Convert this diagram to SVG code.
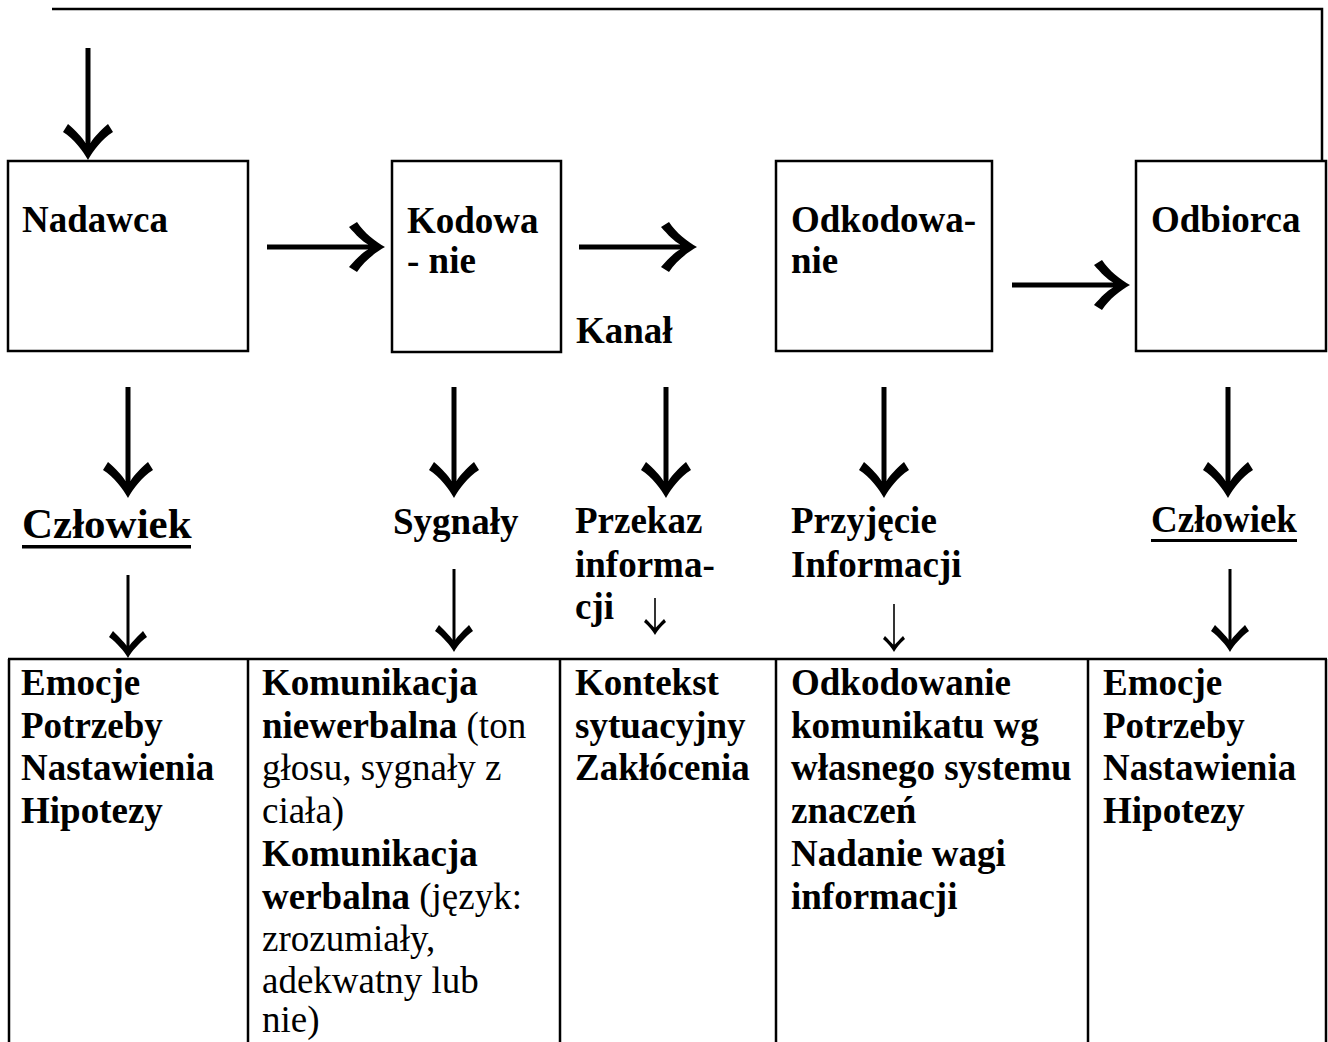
<svg xmlns="http://www.w3.org/2000/svg" width="1328" height="1042" viewBox="0 0 1328 1042">
<style>
  .box{fill:none;stroke:#000;stroke-width:2.5}
  .t{font-family:"Liberation Serif","Times New Roman",serif;font-size:37px;fill:#000}
  .b{font-weight:bold}
  .n{font-weight:normal}
  .big{stroke:#000;stroke-width:5;fill:none}
  .med{stroke:#000;stroke-width:3;fill:none}
  .sml{stroke:#000;stroke-width:1.6;fill:none}
  .ln{stroke:#000;stroke-width:2.5;fill:none}
</style>
<defs>
  <marker id="hBig" markerUnits="userSpaceOnUse" orient="auto" refX="0" refY="0" markerWidth="80" markerHeight="80" viewBox="-40 -40 80 80" overflow="visible">
    <path d="M15,0 C6,-5 -6,-14 -13,-25 L-21,-20 C-14,-12 -8,-6 -2,-2.5 L-2,2.5 C-8,6 -14,12 -21,20 L-13,25 C-6,14 6,5 15,0 Z" fill="#000"/>
  </marker>
  <marker id="hMed" markerUnits="userSpaceOnUse" orient="auto" refX="0" refY="0" markerWidth="60" markerHeight="60" viewBox="-30 -30 60 60" overflow="visible">
    <path d="M11,0 C4,-4 -4,-11 -10,-19 L-16,-15 C-10,-9 -5,-4 -1.5,-1.6 L-1.5,1.6 C-5,4 -10,9 -16,15 L-10,19 C-4,11 4,4 11,0 Z" fill="#000"/>
  </marker>
  <marker id="hSml" markerUnits="userSpaceOnUse" orient="auto" refX="0" refY="0" markerWidth="40" markerHeight="40" viewBox="-20 -20 40 40" overflow="visible">
    <path d="M7,0 C3,-2.5 -2,-6 -6,-11 L-9,-9 C-5,-5 -2,-2.5 -0.5,-0.9 L-0.5,0.9 C-2,2.5 -5,5 -9,9 L-6,11 C-2,6 3,2.5 7,0 Z" fill="#000"/>
  </marker>
</defs>

<g id="connectors">
  <polyline class="ln" points="52,9 1322,9 1322,161"/>
  <line class="big" x1="88" y1="48" x2="88" y2="145" marker-end="url(#hBig)"/>
  <line class="big" x1="267" y1="247" x2="370" y2="247" marker-end="url(#hBig)"/>
  <line class="big" x1="579" y1="247" x2="682" y2="247" marker-end="url(#hBig)"/>
  <line class="big" x1="1012" y1="285" x2="1115" y2="285" marker-end="url(#hBig)"/>
  <line class="big" x1="128" y1="387" x2="128" y2="483" marker-end="url(#hBig)"/>
  <line class="big" x1="454" y1="387" x2="454" y2="483" marker-end="url(#hBig)"/>
  <line class="big" x1="666" y1="387" x2="666" y2="483" marker-end="url(#hBig)"/>
  <line class="big" x1="884" y1="387" x2="884" y2="483" marker-end="url(#hBig)"/>
  <line class="big" x1="1228" y1="387" x2="1228" y2="483" marker-end="url(#hBig)"/>
  <line class="med" x1="128" y1="575" x2="128" y2="647" marker-end="url(#hMed)"/>
  <line class="med" x1="454" y1="569" x2="454" y2="641" marker-end="url(#hMed)"/>
  <line class="med" x1="1230" y1="569" x2="1230" y2="641" marker-end="url(#hMed)"/>
  <line class="sml" x1="655" y1="598" x2="655" y2="628" marker-end="url(#hSml)"/>
  <line class="sml" x1="894" y1="604" x2="894" y2="645" marker-end="url(#hSml)"/>
</g>

<g id="nadawca">
  <rect class="box" x="8" y="161" width="240" height="190"/>
  <text class="t b" x="22" y="232">Nadawca</text>
</g>
<g id="kodowanie">
  <rect class="box" x="392" y="161" width="169" height="191"/>
  <text class="t b" x="407" y="233">Kodowa</text>
  <text class="t b" x="407" y="273">- nie</text>
</g>
<g id="kanal">
  <text class="t b" x="576" y="343">Kanał</text>
</g>
<g id="odkodowanie">
  <rect class="box" x="776" y="161" width="216" height="190"/>
  <text class="t b" x="791" y="232">Odkodowa-</text>
  <text class="t b" x="791" y="273">nie</text>
</g>
<g id="odbiorca">
  <rect class="box" x="1136" y="161" width="190" height="190"/>
  <text class="t b" x="1151" y="232">Odbiorca</text>
</g>

<g id="czlowiek-left">
  <text class="t b" x="22" y="538" style="font-size:43px">Człowiek</text>
  <rect x="22" y="545" width="169" height="3.5" fill="#000"/>
</g>
<g id="sygnaly">
  <text class="t b" x="393" y="534">Sygnały</text>
</g>
<g id="przekaz">
  <text class="t b" x="575" y="533">Przekaz</text>
  <text class="t b" x="575" y="577">informa-</text>
  <text class="t b" x="575" y="619">cji</text>
</g>
<g id="przyjecie">
  <text class="t b" x="791" y="533">Przyjęcie</text>
  <text class="t b" x="791" y="577">Informacji</text>
</g>
<g id="czlowiek-right">
  <text class="t b" x="1151" y="532">Człowiek</text>
  <rect x="1151" y="539" width="146" height="3" fill="#000"/>
</g>

<g id="table">
  <line class="ln" x1="8" y1="659" x2="1327" y2="659"/>
  <line class="ln" x1="9" y1="659" x2="9" y2="1042"/>
  <line class="ln" x1="248" y1="659" x2="248" y2="1042"/>
  <line class="ln" x1="560" y1="659" x2="560" y2="1042"/>
  <line class="ln" x1="776" y1="659" x2="776" y2="1042"/>
  <line class="ln" x1="1088" y1="659" x2="1088" y2="1042"/>
  <line class="ln" x1="1326" y1="659" x2="1326" y2="1042"/>
</g>
<g id="cell1">
  <text class="t b" x="21" y="695">Emocje</text>
  <text class="t b" x="21" y="738">Potrzeby</text>
  <text class="t b" x="21" y="780">Nastawienia</text>
  <text class="t b" x="21" y="823">Hipotezy</text>
</g>
<g id="cell2">
  <text class="t b" x="262" y="695">Komunikacja</text>
  <text class="t b" x="262" y="738">niewerbalna<tspan class="n"> (ton</tspan></text>
  <text class="t" x="262" y="780">głosu, sygnały z</text>
  <text class="t" x="262" y="823">ciała)</text>
  <text class="t b" x="262" y="866">Komunikacja</text>
  <text class="t b" x="262" y="909">werbalna<tspan class="n"> (język:</tspan></text>
  <text class="t" x="262" y="951">zrozumiały,</text>
  <text class="t" x="262" y="993">adekwatny lub</text>
  <text class="t" x="262" y="1032">nie)</text>
</g>
<g id="cell3">
  <text class="t b" x="575" y="695">Kontekst</text>
  <text class="t b" x="575" y="738">sytuacyjny</text>
  <text class="t b" x="575" y="780">Zakłócenia</text>
</g>
<g id="cell4">
  <text class="t b" x="791" y="695">Odkodowanie</text>
  <text class="t b" x="791" y="738">komunikatu wg</text>
  <text class="t b" x="791" y="780">własnego systemu</text>
  <text class="t b" x="791" y="823">znaczeń</text>
  <text class="t b" x="791" y="866">Nadanie wagi</text>
  <text class="t b" x="791" y="909">informacji</text>
</g>
<g id="cell5">
  <text class="t b" x="1103" y="695">Emocje</text>
  <text class="t b" x="1103" y="738">Potrzeby</text>
  <text class="t b" x="1103" y="780">Nastawienia</text>
  <text class="t b" x="1103" y="823">Hipotezy</text>
</g>
</svg>
